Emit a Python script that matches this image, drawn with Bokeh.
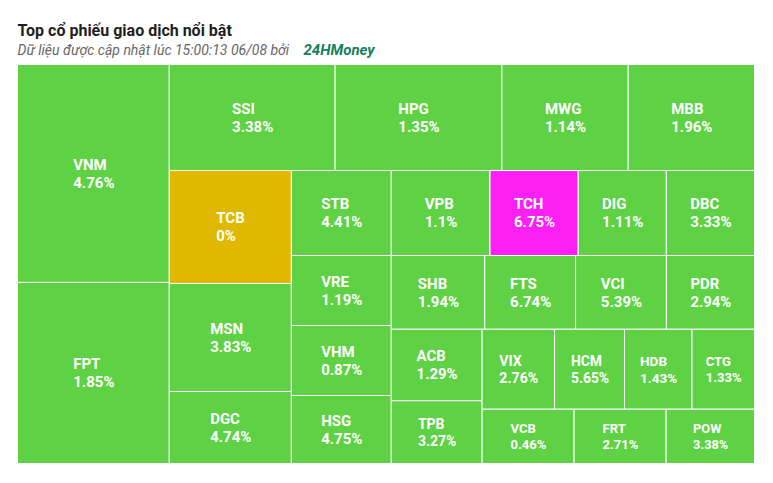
import math
from bokeh.plotting import figure
from bokeh.models import Range1d, ColumnDataSource
from bokeh.core.properties import value
from bokeh.embed import file_html
from bokeh.resources import INLINE

# ---------------- data ----------------
tickers = ["VNM", "FPT", "SSI", "HPG", "MWG", "MBB", "TCB", "MSN", "DGC", "STB",
           "VRE", "VHM", "HSG", "VPB", "TCH", "DIG", "DBC", "SHB", "FTS", "VCI",
           "PDR", "ACB", "TPB", "VIX", "HCM", "HDB", "CTG", "VCB", "FRT", "POW"]
change_pct = [4.76, 1.85, 3.38, 1.35, 1.14, 1.96, 0, 3.83, 4.74, 4.41,
              1.19, 0.87, 4.75, 1.1, 6.75, 1.11, 3.33, 1.94, 6.74, 5.39,
              2.94, 1.29, 3.27, 2.76, 5.65, 1.43, 1.33, 0.46, 2.71, 3.38]
# relative trading value (estimated from the tile areas)
trade_value = [331, 275, 176, 177, 134, 134, 138, 132, 88, 85,
               70, 70, 68, 84, 75, 75, 75, 69, 67, 67,
               65, 65, 57, 58, 56, 54, 50, 50, 50, 48]
ceiling_tickers = ["TCH"]

# strip structure of the treemap: (orientation, number of tiles)
strips = [("col", 2), ("row", 4), ("col", 3), ("col", 4), ("row", 4),
          ("row", 4), ("col", 2), ("row", 4), ("row", 3)]

title_text = "Top cổ phiếu giao dịch nổi bật"
subtitle_text = "Dữ liệu được cập nhật lúc 15:00:13 06/08 bởi"
brand_text = "24HMoney"

# ---------------- style ----------------
FIG_W, FIG_H = 765, 475
BOX_X, BOX_Y, BOX_W, BOX_H = 17, 64, 737, 399
GREEN, YELLOW, MAGENTA = "#5ed144", "#e0b800", "#fd20f5"


def strip_layout(vals, strips, x, y, w, h):
    scale = w * h / float(sum(vals))
    rects, i = [], 0
    for k, (orient, n) in enumerate(strips):
        group = vals[i:i + n]
        area = sum(group) * scale
        last = k == len(strips) - 1
        if orient == "col":
            sw = w if last else area / h
            yy = y
            for v in group:
                hh = v * scale / sw
                rects.append((x, yy, x + sw, yy + hh))
                yy += hh
            x += sw
            w -= sw
        else:
            sh = h if last else area / w
            xx = x
            for v in group:
                ww = v * scale / sh
                rects.append((xx, y, xx + ww, y + sh))
                xx += ww
            y += sh
            h -= sh
        i += n
    return rects


CW = {d: 0.562 for d in "0123456789"}
CW.update({".": 0.27, "%": 0.733, "A": 0.653, "B": 0.622, "C": 0.643, "D": 0.627,
           "E": 0.545, "F": 0.531, "G": 0.672, "H": 0.708, "I": 0.283, "M": 0.871,
           "N": 0.705, "O": 0.683, "P": 0.632, "R": 0.612, "S": 0.604, "T": 0.607,
           "V": 0.651, "W": 0.867, "X": 0.627, "Y": 0.604})


def text_w(s, fs):
    return sum(CW.get(c, 0.6) for c in s) * fs


rects = strip_layout(trade_value, strips, BOX_X, BOX_Y, BOX_W, BOX_H)

left = [r[0] for r in rects]
top = [r[1] for r in rects]
right = [r[2] for r in rects]
bottom = [r[3] for r in rects]
colors = []
for t, c in zip(tickers, change_pct):
    if t in ceiling_tickers:
        colors.append(MAGENTA)
    elif c == 0:
        colors.append(YELLOW)
    else:
        colors.append(GREEN)

pct_labels = [("%g" % c) + "%" for c in change_pct]
lx, ny, py, fss = [], [], [], []
for (x0, y0, x1, y1), t, pl in zip(rects, tickers, pct_labels):
    fs = min(15.0, math.sqrt((x1 - x0) * (y1 - y0)) / 5.4)
    cx, cy = (x0 + x1) / 2, (y0 + y1) / 2
    bw = max(text_w(t, fs), text_w(pl, fs))
    lx.append(cx - bw / 2)
    ny.append(cy - 0.58 * fs)
    py.append(cy + 0.62 * fs)
    fss.append("%.1fpx" % fs)

src = ColumnDataSource(dict(left=left, right=right, top=top, bottom=bottom,
                            color=colors, lx=lx, ny=ny, py=py, fs=fss,
                            name=tickers, pct=pct_labels))

p = figure(width=FIG_W, height=FIG_H, x_range=Range1d(0, FIG_W), y_range=Range1d(FIG_H, 0),
           output_backend="svg", toolbar_location=None, min_border=0,
           x_axis_type=None, y_axis_type=None)
p.grid.visible = False
p.outline_line_color = None
p.background_fill_color = "white"
p.border_fill_color = "white"

p.quad(left="left", right="right", top="top", bottom="bottom", source=src,
       fill_color="color", line_color="white", line_width=1)

p.text(x="lx", y="ny", text="name", source=src, text_font=value("Roboto"),
       text_font_style="bold", text_font_size="fs", text_color="white",
       text_align="left", text_baseline="alphabetic")
p.text(x="lx", y="py", text="pct", source=src, text_font=value("Roboto"),
       text_font_style="bold", text_font_size="fs", text_color="white",
       text_align="left", text_baseline="alphabetic")

p.text(x=[17], y=[30], text=[title_text], text_font=value("Roboto"), text_font_style="bold",
       text_font_size="16px", text_color="#1e1e1e", text_baseline="alphabetic")
p.text(x=[17], y=[49], text=[subtitle_text], text_font=value("Roboto"), text_font_style="italic",
       text_font_size="14px", text_color="#666666", text_baseline="alphabetic")
p.text(x=[303], y=[49], text=[brand_text], text_font=value("Roboto"), text_font_style="bold italic",
       text_font_size="15px", text_color="#17805c", text_baseline="alphabetic")

open("out.html", "w").write(file_html(p, INLINE))
